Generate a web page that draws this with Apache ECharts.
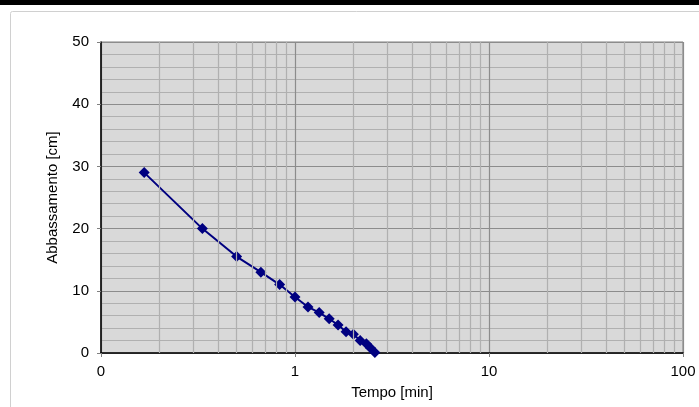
<!DOCTYPE html>
<html>
<head>
<meta charset="utf-8">
<script src="https://cdn.jsdelivr.net/npm/echarts@6/dist/echarts.min.js"></script>
<style>
html, body { margin: 0; padding: 0; background: #fff; }
#chart { width: 699px; height: 407px; }
</style>
</head>
<body>
<div id="chart"></div>
<script>
// tempo [min] / abbassamento [cm]
const tempo = [0.167, 0.333, 0.5, 0.667, 0.833, 1.0, 1.167, 1.333, 1.5, 1.667, 1.833, 2.0, 2.167, 2.333, 2.45, 2.58];
const abbassamento = [29, 20, 15.5, 13, 11, 9, 7.4, 6.5, 5.5, 4.5, 3.4, 3.0, 2.0, 1.5, 0.8, 0.1];
const xDecades = [0.1, 1, 10, 100];
const xMinor = [];
for (let d = 0; d < xDecades.length - 1; d++) {
	for (let k = 2; k <= 9; k++) xMinor.push(+(xDecades[d] * k).toPrecision(3));
}

const font = 'Liberation Sans, Arial, sans-serif';
const chart = echarts.init(document.getElementById('chart'));

chart.setOption({
	animation: false,
	graphic: [
		{ type: 'rect', shape: { x: 0, y: 0, width: 699, height: 5 }, style: { fill: '#000' } },
		{ type: 'rect', shape: { x: 10.5, y: 11.5, width: 700, height: 420, r: 2 }, style: { fill: 'none', stroke: '#d0d0d0', lineWidth: 1 } }
	],
	grid: { left: 101, right: 16, top: 42, bottom: 54, show: true, backgroundColor: '#d9d9d9', borderColor: '#7f7f7f', borderWidth: 1 },
	xAxis: {
		type: 'log', logBase: 10, min: 0.1, max: 100,
		name: 'Tempo [min]', nameLocation: 'middle', nameGap: 32,
		nameTextStyle: { fontFamily: font, fontSize: 15, color: '#000' },
		axisLine: { show: true, lineStyle: { color: '#000', width: 1.5 } },
		axisTick: { show: true, length: 4, lineStyle: { color: '#808080' } },
		axisLabel: { fontFamily: font, fontSize: 15, color: '#000', margin: 11,
			formatter: v => (v < 1 ? '0' : String(Math.round(v))) },
		splitLine: { show: true, lineStyle: { color: '#8c8c8c', width: 1.2 } }
	},
	yAxis: {
		type: 'value', min: 0, max: 50, interval: 10,
		name: 'Abbassamento [cm]', nameLocation: 'middle', nameGap: 41,
		nameTextStyle: { fontFamily: font, fontSize: 15, color: '#000' },
		axisLine: { show: true, lineStyle: { color: '#000', width: 1.5 } },
		axisTick: { show: true, length: 4, lineStyle: { color: '#808080' } },
		axisLabel: { fontFamily: font, fontSize: 15, color: '#000', margin: 12 },
		splitLine: { show: true, lineStyle: { color: '#8c8c8c', width: 1.2 } },
		minorTick: { show: false, splitNumber: 5 },
		minorSplitLine: { show: true, lineStyle: { color: '#b0b0b0', width: 1.2 } }
	},
	series: [
		{
			type: 'line', data: [], z: 1, silent: true,
			markLine: {
				silent: true, symbol: 'none', animation: false,
				label: { show: false },
				lineStyle: { color: '#b0b0b0', width: 1.2, type: 'solid' },
				data: xMinor.map(v => ({ xAxis: v }))
			}
		},
		{
			type: 'line', z: 3,
			data: tempo.map((t, i) => [t, abbassamento[i]]),
			symbol: 'diamond', symbolSize: 11,
			itemStyle: { color: '#000080' },
			lineStyle: { color: '#000080', width: 2 }
		}
	]
});
</script>
</body>
</html>
